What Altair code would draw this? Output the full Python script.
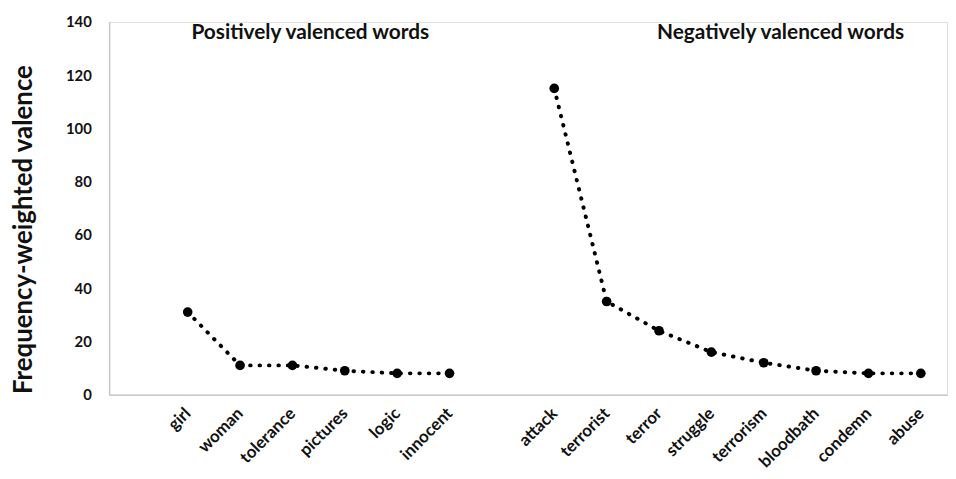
import altair as alt
import pandas as pd

words_pos = ["girl", "woman", "tolerance", "pictures", "logic", "innocent"]
vals_pos = [31, 11, 11, 9, 8, 8]
words_neg = ["attack", "terrorist", "terror", "struggle", "terrorism", "bloodbath", "condemn", "abuse"]
vals_neg = [115, 35, 24, 16, 12, 9, 8, 8]

panel_titles = ["Positively valenced words", "Negatively valenced words"]
title_anchor = ["tolerance", "terrorism"]
title_dx = [18, 17]
y_ticks = [0, 20, 40, 60, 80, 100, 120, 140]

domain = ["_gap1"] + words_pos + ["_gap2"] + words_neg

df = pd.DataFrame({
    "word": words_pos + words_neg,
    "value": vals_pos + vals_neg,
    "group": ["pos"] * len(words_pos) + ["neg"] * len(words_neg),
})
tdf = pd.DataFrame({"word": title_anchor, "value": [140, 140], "label": panel_titles})

FONT = "Lato"
TXT = "#111111"
GREY = "#c8c8c8"

xenc = alt.X(
    "word:N",
    scale=alt.Scale(domain=domain, type="point", padding=0.5),
    sort=domain,
    axis=alt.Axis(
        title=None, labelAngle=-45, labelAlign="right", labelBaseline="middle",
        labelPadding=16, ticks=False, domainColor=GREY, domainWidth=1.5,
        labelFont=FONT, labelFontWeight="bold", labelFontSize=17, labelColor=TXT,
        labelExpr="indexof(datum.value, '_') == 0 ? '' : datum.value",
        labelOverlap=False, grid=False,
    ),
)
yenc = alt.Y(
    "value:Q",
    scale=alt.Scale(domain=[0, 140], nice=False, zero=True),
    axis=alt.Axis(
        title="Frequency-weighted valence", values=y_ticks, ticks=False, grid=False,
        domainColor=GREY, domainWidth=1.5, labelPadding=18,
        labelFont=FONT, labelFontWeight="bold", labelFontSize=15, labelColor=TXT,
        titleFont=FONT, titleFontWeight="bold", titleFontSize=26, titleColor=TXT,
        titleAngle=-90, titleAlign="center", titleBaseline="middle", titleX=-86, titleY=209,
    ),
)

line = alt.Chart(df).mark_line(
    color="black", strokeWidth=4, strokeDash=[0.5, 9], strokeCap="round"
).encode(x=xenc, y=yenc, detail="group:N")

points = alt.Chart(df).mark_circle(size=95, color="black", opacity=1).encode(x=xenc, y=yenc)

layers = [line, points]
for i in range(len(panel_titles)):
    layers.append(
        alt.Chart(tdf.iloc[[i]]).mark_text(
            font=FONT, fontWeight="bold", fontSize=21, color=TXT, baseline="middle",
            align="center", dy=11, dx=title_dx[i]
        ).encode(x=alt.X("word:N", sort=domain), y=alt.Y("value:Q"), text="label:N")
    )

chart = alt.layer(*layers).properties(
    width=845, height=376,
    padding={"left": 102, "top": 12, "right": 1, "bottom": 75},
    autosize=alt.AutoSizeParams(type="none"),
).configure_view(strokeWidth=0).configure(background="white")

chart.save("out.html", embed_options={"renderer": "svg", "actions": False})
